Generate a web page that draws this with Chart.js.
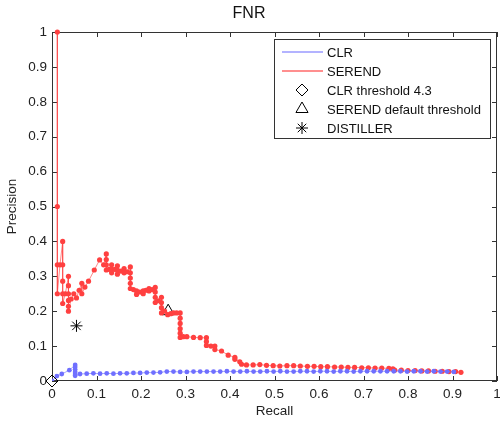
<!DOCTYPE html>
<html>
<head>
<meta charset="utf-8">
<title>FNR</title>
<script src="https://cdn.jsdelivr.net/npm/chart.js@4.4.1/dist/chart.umd.min.js"></script>
<style>
	body { margin: 0; background: #fff; }
	canvas { display: block; }
</style>
</head>
<body>
<canvas id="myChart" width="500" height="421"></canvas>
<script>
// SEREND 곡선 (recall, precision)
const serendRecall = [
	0.012, 0.012, 0.012, 0.012, 0.018, 0.024, 0.024, 0.024, 0.024, 0.024,
	0.030, 0.037, 0.037, 0.037, 0.037, 0.037, 0.037, 0.043, 0.049, 0.055,
	0.061, 0.067, 0.067, 0.074, 0.082, 0.095, 0.107, 0.116, 0.122, 0.122,
	0.122, 0.122, 0.128, 0.134, 0.134, 0.134, 0.141, 0.147, 0.147, 0.147,
	0.155, 0.162, 0.162, 0.169, 0.176, 0.176, 0.176, 0.176, 0.176, 0.183,
	0.190, 0.190, 0.197, 0.205, 0.205, 0.211, 0.218, 0.218, 0.225, 0.232,
	0.232, 0.232, 0.232, 0.239, 0.246, 0.246, 0.246, 0.246, 0.253, 0.260,
	0.267, 0.273, 0.280, 0.288, 0.288, 0.288, 0.288, 0.288, 0.288, 0.295,
	0.303, 0.318, 0.333, 0.347, 0.347, 0.347, 0.357, 0.366, 0.366, 0.381,
	0.396, 0.411, 0.411, 0.422, 0.426, 0.437, 0.452, 0.467, 0.482, 0.497,
	0.512, 0.528, 0.543, 0.558, 0.574, 0.589, 0.604, 0.619, 0.635, 0.650,
	0.665, 0.680, 0.696, 0.711, 0.726, 0.741, 0.757, 0.766, 0.770, 0.785,
	0.800, 0.816, 0.831, 0.846, 0.861, 0.877, 0.892, 0.907, 0.919
];
const serendPrecision = [
	1.000, 0.500, 0.333, 0.250, 0.333, 0.400, 0.333, 0.286, 0.250, 0.222,
	0.250, 0.300, 0.273, 0.250, 0.231, 0.214, 0.200, 0.235, 0.250, 0.238,
	0.260, 0.280, 0.250, 0.269, 0.286, 0.318, 0.347, 0.333, 0.364, 0.348,
	0.333, 0.318, 0.320, 0.333, 0.320, 0.310, 0.320, 0.330, 0.318, 0.306,
	0.315, 0.322, 0.310, 0.313, 0.327, 0.310, 0.295, 0.280, 0.265, 0.262,
	0.258, 0.248, 0.255, 0.258, 0.250, 0.260, 0.265, 0.258, 0.262, 0.268,
	0.255, 0.240, 0.225, 0.230, 0.240, 0.225, 0.210, 0.195, 0.200, 0.190,
	0.193, 0.195, 0.195, 0.195, 0.180, 0.165, 0.150, 0.137, 0.125, 0.127,
	0.127, 0.125, 0.124, 0.124, 0.113, 0.102, 0.100, 0.100, 0.090, 0.086,
	0.074, 0.068, 0.062, 0.055, 0.048, 0.046, 0.046, 0.047, 0.045, 0.044,
	0.043, 0.044, 0.044, 0.043, 0.042, 0.042, 0.041, 0.041, 0.040, 0.040,
	0.039, 0.039, 0.038, 0.038, 0.037, 0.037, 0.036, 0.035, 0.031, 0.031,
	0.030, 0.030, 0.029, 0.029, 0.028, 0.028, 0.027, 0.027, 0.025
];

// CLR 곡선 (recall, precision)
const clrRecall = [
	0.000, 0.011, 0.022, 0.039, 0.052, 0.052, 0.052, 0.052, 0.052, 0.052,
	0.063, 0.078, 0.093, 0.108, 0.123, 0.138, 0.153, 0.168, 0.183, 0.198,
	0.213, 0.228, 0.243, 0.258, 0.273, 0.288, 0.303, 0.318, 0.333, 0.348,
	0.363, 0.378, 0.393, 0.408, 0.423, 0.438, 0.453, 0.468, 0.483, 0.498,
	0.513, 0.528, 0.543, 0.558, 0.573, 0.588, 0.603, 0.618, 0.633, 0.648,
	0.663, 0.678, 0.693, 0.708, 0.723, 0.738, 0.753, 0.768, 0.783, 0.798,
	0.813, 0.828, 0.843, 0.858, 0.873, 0.888, 0.903
];
const clrPrecision = [
	0.000, 0.014, 0.020, 0.031, 0.046, 0.040, 0.033, 0.026, 0.020, 0.015,
	0.020, 0.021, 0.022, 0.021, 0.022, 0.021, 0.022, 0.022, 0.023, 0.023,
	0.024, 0.024, 0.025, 0.027, 0.027, 0.026, 0.026, 0.027, 0.027, 0.027,
	0.027, 0.027, 0.028, 0.027, 0.027, 0.028, 0.027, 0.027, 0.028, 0.027,
	0.028, 0.027, 0.027, 0.028, 0.028, 0.027, 0.028, 0.028, 0.027, 0.028,
	0.028, 0.027, 0.028, 0.028, 0.028, 0.028, 0.028, 0.028, 0.028, 0.027,
	0.028, 0.028, 0.027, 0.028, 0.027, 0.027, 0.026
];

// 임계값 마커
const clrThreshold = [0, 0];          // CLR threshold 4.3
const serendThreshold = [0.261, 0.2]; // SEREND default threshold
const distillerPoint = [0.055, 0.158];

// 축 눈금
const axisTicks = [0, 0.1, 0.2, 0.3, 0.4, 0.5, 0.6, 0.7, 0.8, 0.9, 1];

const FONT = '"Liberation Sans", Arial, sans-serif';
Chart.defaults.font.family = FONT;
Chart.defaults.color = '#222';

function toPoints(xs, ys) {
	return xs.map(function(x, i) { return { x: x, y: ys[i] }; });
}

// 범례 (MATLAB 스타일 박스)
const legendBox = {
	id: 'legendBox',
	afterDraw(chart) {
		const ctx = chart.ctx;
		const left = 274.5, top = 39.5, w = 216, h = 99;
		ctx.save();
		ctx.fillStyle = '#fff';
		ctx.fillRect(left, top, w, h);
		ctx.strokeStyle = '#333';
		ctx.lineWidth = 1;
		ctx.strokeRect(left, top, w, h);

		chart.data.datasets.forEach(function(ds, i) {
			const y = 52 + i * 19;
			if (ds.showLine) {
				ctx.strokeStyle = ds.legendColor;
				ctx.lineWidth = 1.5;
				ctx.beginPath();
				ctx.moveTo(282, y);
				ctx.lineTo(323, y);
				ctx.stroke();
			} else {
				ctx.strokeStyle = '#000';
				ctx.fillStyle = 'rgba(0,0,0,0)';
				ctx.lineWidth = 1;
				Chart.helpers.drawPoint(ctx, {
					pointStyle: ds.pointStyle,
					radius: ds.pointRadius,
					borderWidth: 1,
					rotation: 0
				}, 302, y);
			}
			ctx.font = '13px ' + FONT;
			ctx.textBaseline = 'middle';
			ctx.textAlign = 'left';
			ctx.fillStyle = '#111';
			ctx.fillText(ds.label, 327, y + 1);
		});
		ctx.restore();
	}
};

// 플롯 박스와 안쪽 눈금
const axisBox = {
	id: 'axisBox',
	beforeDatasetsDraw(chart) {
		const a = chart.chartArea;
		const xs = chart.scales.x, ys = chart.scales.y;
		const ctx = chart.ctx;
		ctx.save();
		ctx.strokeStyle = '#333';
		ctx.lineWidth = 1;
		ctx.strokeRect(a.left + 0.5, a.top + 0.5, a.right - a.left - 1, a.bottom - a.top - 1);
		ctx.beginPath();
		axisTicks.forEach(function(v) {
			const px = Math.round(xs.getPixelForValue(v)) + 0.5;
			ctx.moveTo(px, a.bottom);
			ctx.lineTo(px, a.bottom - 5);
			ctx.moveTo(px, a.top);
			ctx.lineTo(px, a.top + 5);
			const py = Math.round(ys.getPixelForValue(v)) + 0.5;
			ctx.moveTo(a.left, py);
			ctx.lineTo(a.left + 5, py);
			ctx.moveTo(a.right, py);
			ctx.lineTo(a.right - 5, py);
		});
		ctx.stroke();

		// 제목
		ctx.fillStyle = '#111';
		ctx.font = '16px ' + FONT;
		ctx.textAlign = 'center';
		ctx.textBaseline = 'middle';
		ctx.fillText('FNR', 249, 14);
		ctx.restore();
	}
};

// 축 라벨 때문에 생기는 자동 여백 제거
function noPadding(scale) {
	scale.paddingLeft = 0;
	scale.paddingRight = 0;
	scale.paddingTop = 0;
	scale.paddingBottom = 0;
}

const ctx = document.getElementById('myChart');

const config = {
	type: 'scatter',
	data: {
		datasets: [{
			label: 'CLR',
			data: toPoints(clrRecall, clrPrecision),
			showLine: true,
			legendColor: '#9a9aff',
			borderColor: 'rgba(110,110,255,0.6)',
			borderWidth: 1,
			pointStyle: 'circle',
			pointRadius: 2.4,
			pointBackgroundColor: '#6f6fff',
			pointBorderWidth: 0
		}, {
			label: 'SEREND',
			data: toPoints(serendRecall, serendPrecision),
			showLine: true,
			legendColor: '#ff6a6a',
			borderColor: 'rgba(255,60,60,0.6)',
			borderWidth: 1,
			pointStyle: 'circle',
			pointRadius: 2.6,
			pointBackgroundColor: '#ff4040',
			pointBorderWidth: 0,
			clip: 4
		}, {
			label: 'CLR threshold 4.3',
			data: [{ x: clrThreshold[0], y: clrThreshold[1] }],
			showLine: false,
			pointStyle: 'rectRot',
			pointRadius: 6,
			pointBackgroundColor: 'rgba(0,0,0,0)',
			pointBorderColor: '#000',
			pointBorderWidth: 1,
			clip: false
		}, {
			label: 'SEREND default threshold',
			data: [{ x: serendThreshold[0], y: serendThreshold[1] }],
			showLine: false,
			pointStyle: 'triangle',
			pointRadius: 7,
			pointBackgroundColor: 'rgba(0,0,0,0)',
			pointBorderColor: '#000',
			pointBorderWidth: 1,
			clip: false
		}, {
			label: 'DISTILLER',
			data: [{ x: distillerPoint[0], y: distillerPoint[1] }],
			showLine: false,
			pointStyle: 'star',
			pointRadius: 6,
			pointBackgroundColor: 'rgba(0,0,0,0)',
			pointBorderColor: '#000',
			pointBorderWidth: 1,
			clip: false
		}]
	},
	options: {
		responsive: false,
		animation: false,
		layout: {
			autoPadding: false,
			padding: { top: 32, right: 3, left: 0, bottom: 0 }
		},
		plugins: {
			legend: { display: false },
			tooltip: { enabled: false }
		},
		scales: {
			x: {
				type: 'linear',
				min: 0,
				max: 1,
				afterFit: function(scale) { scale.height = 40; noPadding(scale); },
				afterBuildTicks: function(scale) {
					scale.ticks = axisTicks.map(function(v) { return { value: v }; });
				},
				grid: { display: false, drawTicks: false },
				border: { display: false },
				ticks: {
					padding: 5,
					maxRotation: 0,
					font: { size: 13.5 },
					callback: function(v) { return String(v); }
				},
				title: {
					display: true,
					text: 'Recall',
					font: { size: 13.5 },
					padding: { top: 0, bottom: 2 }
				}
			},
			y: {
				type: 'linear',
				min: 0,
				max: 1,
				afterFit: function(scale) { scale.width = 52; noPadding(scale); },
				afterBuildTicks: function(scale) {
					scale.ticks = axisTicks.map(function(v) { return { value: v }; });
				},
				grid: { display: false, drawTicks: false },
				border: { display: false },
				ticks: {
					padding: 5,
					font: { size: 13.5 },
					callback: function(v) { return String(v); }
				},
				title: {
					display: true,
					text: 'Precision',
					font: { size: 13.5 },
					padding: { top: 4, bottom: 0 }
				}
			}
		}
	},
	plugins: [axisBox, legendBox]
};

// 차트 생성
const myChart = new Chart(ctx, config);
</script>
</body>
</html>
